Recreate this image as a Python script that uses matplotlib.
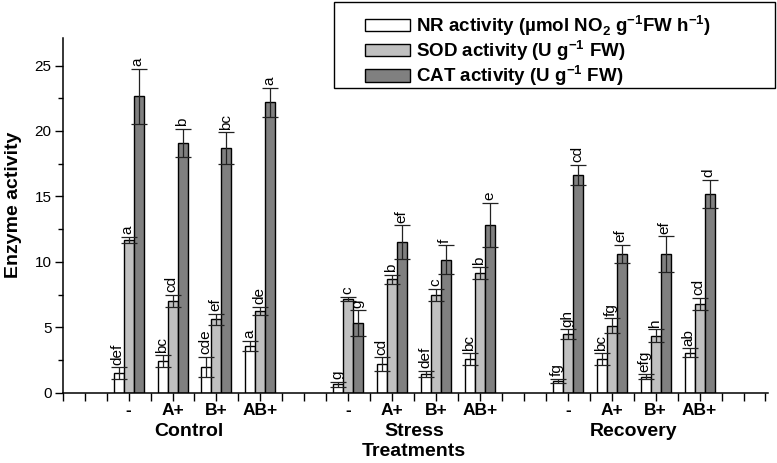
import numpy as np
import matplotlib
matplotlib.use("Agg")
import matplotlib.pyplot as plt
from matplotlib.patches import Rectangle
from matplotlib.ticker import MultipleLocator
import matplotlib.transforms as mtransforms

plt.rcParams["font.family"] = ["Liberation Sans", "DejaVu Sans"]
plt.rcParams["mathtext.fontset"] = "custom"
plt.rcParams["mathtext.rm"] = "Liberation Sans:bold"
plt.rcParams["mathtext.bf"] = "Liberation Sans:bold"

treatments = ["-", "A+", "B+", "AB+"]
groups = ["Control", "Stress", "Recovery"]

nr = [1.48, 2.42, 1.99, 3.57, 0.64, 2.17, 1.43, 2.55, 0.90, 2.58, 1.22, 3.06]
nr_err = [0.45, 0.45, 0.77, 0.38, 0.20, 0.54, 0.25, 0.46, 0.15, 0.43, 0.20, 0.34]
sod = [11.68, 7.00, 5.61, 6.25, 7.17, 8.67, 7.47, 9.13, 4.47, 5.13, 4.36, 6.79]
sod_err = [0.25, 0.47, 0.40, 0.32, 0.18, 0.33, 0.46, 0.46, 0.38, 0.56, 0.49, 0.48]
cat = [22.65, 19.08, 18.70, 22.20, 5.31, 11.48, 10.15, 12.83, 16.66, 10.59, 10.59, 15.20]
cat_err = [2.10, 1.07, 1.20, 1.10, 1.00, 1.30, 1.10, 1.70, 0.77, 0.71, 1.35, 1.07]

nr_lab = ["def", "bc", "cde", "a", "g", "cd", "def", "bc", "fg", "bc", "efg", "ab"]
sod_lab = ["a", "cd", "ef", "de", "c", "b", "c", "b", "gh", "fg", "h", "cd"]
cat_lab = ["a", "b", "bc", "a", "g", "ef", "f", "e", "cd", "ef", "ef", "d"]

legend_labels = [
    r"NR activity (µmol NO$_{\mathbf{2}}$ g$^{\mathbf{-1}}$FW h$^{\mathbf{-1}}$)",
    r"SOD activity (U g$^{\mathbf{-1}}$ FW)",
    r"CAT activity (U g$^{\mathbf{-1}}$ FW)",
]

# group g, treatment t -> x position (tick units)
x = np.array([3 + 10 * g + 2 * t for g in range(3) for t in range(4)], dtype=float)
w = 0.455

fig = plt.figure(figsize=(7.77, 4.63), dpi=100)
ax = fig.add_axes([0.0807, 0.1518, 0.9073, 0.766])

series = [(nr, nr_err, nr_lab, "white"),
          (sod, sod_err, sod_lab, "#c0c0c0"),
          (cat, cat_err, cat_lab, "#808080")]
handles = []
for i, (vals, errs, labs, col) in enumerate(series):
    xs = x + (i - 1) * w
    b = ax.bar(xs, vals, width=w, color=col, edgecolor="black", linewidth=1.0, zorder=2)
    handles.append(b)
    ax.errorbar(xs, vals, yerr=errs, fmt="none", ecolor="#222222", elinewidth=0.9,
                capsize=5.5, capthick=0.9, zorder=3)
    for xi, v, e, lab in zip(xs, vals, errs, labs):
        ax.text(xi - 0.04, v + e + 0.2, lab, rotation=90, ha="center", va="bottom",
                fontsize=11)

ax.set_xlim(0, 32.1)
ax.set_ylim(0, 27.1)
ax.xaxis.set_major_locator(MultipleLocator(1))
ax.set_xticklabels([])
ax.yaxis.set_major_locator(MultipleLocator(5))
ax.yaxis.set_minor_locator(MultipleLocator(2.5))
ax.tick_params(axis="x", which="major", direction="out", length=6, width=1)
ax.tick_params(axis="y", which="major", direction="out", length=6, width=1, labelsize=11, pad=2)
ax.tick_params(axis="y", which="minor", direction="out", length=3.5, width=1)
for s in ["top", "right"]:
    ax.spines[s].set_visible(False)
for s in ["left", "bottom"]:
    ax.spines[s].set_linewidth(1.1)

trans = mtransforms.blended_transform_factory(ax.transData, ax.transAxes)
for xi, lab in zip(x, treatments * 3):
    ax.text(xi, -0.051, lab, transform=trans, ha="center", va="center",
            fontsize=12.5, fontweight="bold")
for gx, g in zip([5.75, 16, 26], groups):
    ax.text(gx, -0.108, g, transform=trans, ha="center", va="center",
            fontsize=14, fontweight="bold")
ax.text(16, -0.167, "Treatments", transform=trans, ha="center", va="center",
        fontsize=14, fontweight="bold")

fig.text(13.5 / 777, 1 - 205 / 463, "Enzyme activity", rotation=90, ha="center",
         va="center", fontsize=14, fontweight="bold")

# legend box drawn separately (wider than its content in the original)
fig.patches.append(Rectangle((334 / 777, 1 - 88 / 463), 441 / 777, 86 / 463,
                             transform=fig.transFigure, fill=False,
                             edgecolor="black", linewidth=1.0))
fig.legend(handles, legend_labels, loc="upper left",
           bbox_to_anchor=(365 / 777, 1 - 13 / 463), frameon=False,
           borderpad=0, borderaxespad=0, handlelength=2.4, handleheight=0.62,
           handletextpad=0.3, labelspacing=0.02,
           prop={"family": "Liberation Sans", "weight": "bold", "size": 13.5})

fig.savefig("out.png", dpi=100)
